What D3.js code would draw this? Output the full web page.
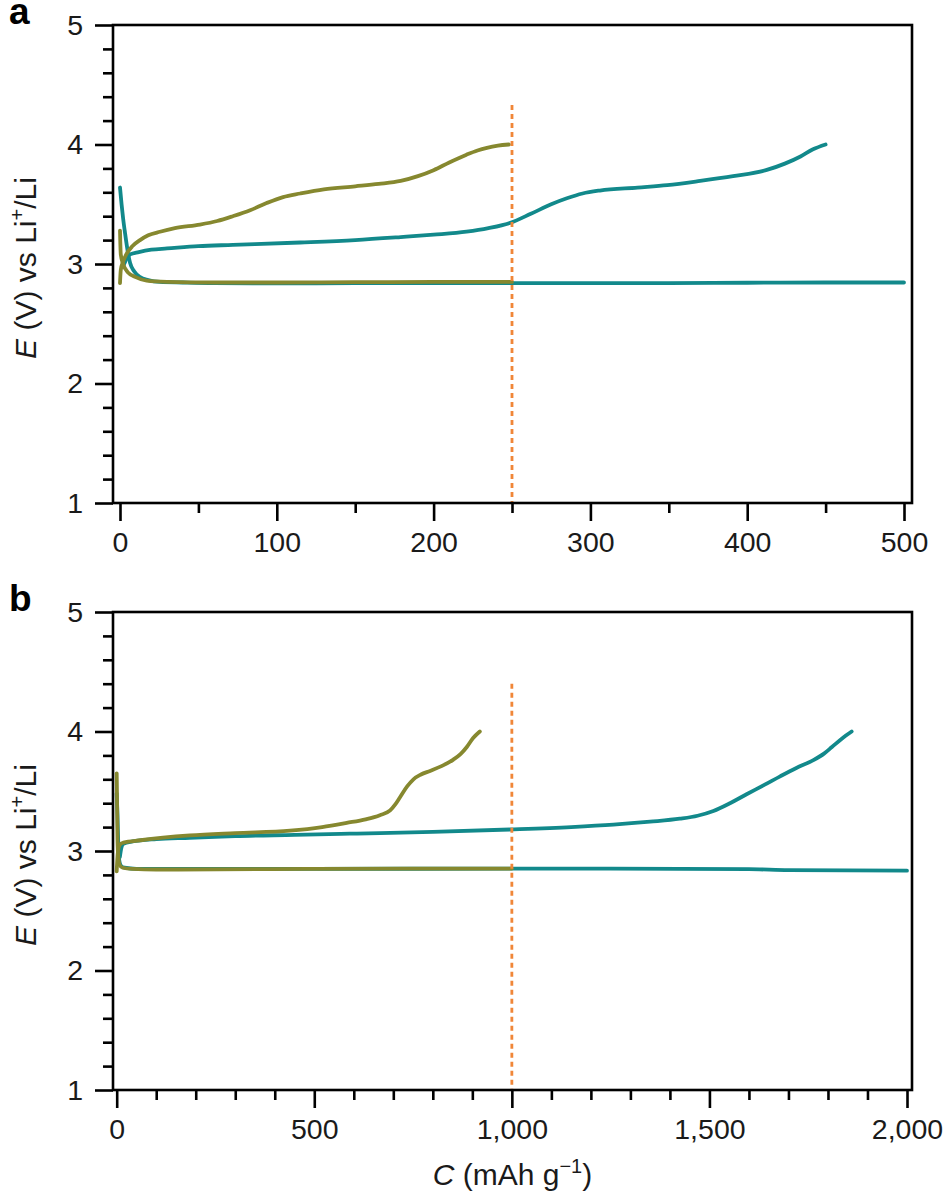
<!DOCTYPE html>
<html>
<head>
<meta charset="utf-8">
<script src="https://cdn.jsdelivr.net/npm/d3@7"></script>
<style>
  body { margin: 0; background: #fff; }
  svg { display: block; font-family: "Liberation Sans", Arial, sans-serif; }
</style>
</head>
<body>
<svg width="946" height="1197"></svg>
<script>
// panel a: capacity (mAh/g) vs potential (V)
var aTealDischarge = [[0,3.64],[1,3.5],[2,3.38],[3.2,3.26],[5,3.1],[6.4,3.01],[9,2.94],[12.8,2.89],[18,2.865],[25.5,2.85],[40,2.845],[60,2.84],[100,2.838],[150,2.84],[200,2.84],[250,2.84],[300,2.84],[350,2.84],[400,2.843],[450,2.845],[500,2.845]]
var aTealCharge = [[2,2.98],[4,3.04],[6.4,3.08],[12,3.1],[20,3.12],[30,3.13],[50,3.15],[72,3.16],[115,3.18],[150,3.2],[179,3.225],[200,3.245],[221,3.27],[235,3.3],[249,3.345],[262,3.42],[275,3.5],[285,3.55],[295,3.59],[306,3.615],[330,3.64],[349,3.66],[370,3.695],[391,3.735],[412,3.785],[424,3.84],[434,3.9],[442,3.96],[450,4.0]]
var aOliveDischarge = [[0,3.28],[0.5,3.08],[2,3.0],[5,2.93],[10,2.89],[17,2.86],[30,2.85],[60,2.845],[100,2.845],[150,2.848],[200,2.85],[250,2.85]]
var aOliveCharge = [[0,2.84],[0.5,2.95],[2,3.02],[4,3.08],[8,3.15],[12.8,3.2],[18,3.24],[25.5,3.27],[35,3.3],[51,3.33],[62,3.36],[72,3.4],[83,3.45],[93.5,3.51],[104,3.56],[115,3.59],[130,3.625],[150,3.65],[165,3.67],[179,3.695],[190,3.735],[200,3.785],[210,3.85],[221,3.915],[228,3.95],[234,3.972],[241,3.99],[248,4.0]]
var aCutoff = [250, 4.33]

// panel b
var bTealDischarge = [[0,3.48],[2,3.3],[4,3.05],[6,2.93],[10,2.88],[20,2.86],[50,2.85],[100,2.85],[500,2.85],[1000,2.853],[1250,2.852],[1600,2.848],[1700,2.84],[2000,2.835]]
var bTealCharge = [[8,2.95],[12,3.03],[17,3.06],[40,3.08],[100,3.1],[185,3.11],[300,3.125],[450,3.135],[590,3.145],[666,3.15],[800,3.16],[995,3.18],[1150,3.2],[1257,3.22],[1350,3.245],[1425,3.27],[1470,3.295],[1510,3.335],[1552,3.4],[1594,3.475],[1640,3.555],[1679,3.625],[1720,3.695],[1763,3.76],[1790,3.815],[1810,3.87],[1835,3.94],[1860,4.0]]
var bOliveDischarge = [[0,3.65],[1,3.4],[2,3.1],[4,2.95],[8,2.88],[15,2.86],[40,2.85],[100,2.845],[500,2.85],[1000,2.853]]
var bOliveCharge = [[0,2.83],[2,2.95],[5,3.03],[10,3.06],[17,3.07],[60,3.09],[185,3.13],[300,3.15],[439,3.17],[520,3.2],[582,3.235],[630,3.265],[666,3.3],[692,3.34],[705,3.39],[717,3.45],[735,3.54],[751,3.6],[770,3.64],[793,3.67],[822,3.71],[852,3.765],[870,3.81],[886,3.87],[902,3.945],[919,4.0]]
var bCutoff = [1000, 4.4]

var yMajor = [1, 2, 3, 4, 5]
var yMinor = d3.range(1, 5.01, 0.2).filter(function (v) { return Math.abs(v - Math.round(v)) > 0.01 })
var aXMajor = [0, 100, 200, 300, 400, 500]
var aXMinor = [50, 150, 250, 350, 450]
var bXMajor = [0, 500, 1000, 1500, 2000]
var bXMinor = d3.range(100, 2000, 100).filter(function (v) { return v % 500 })

var teal = '#12898b'
  , olive = '#86882f'
  , orange = '#f08638'
  , fs = 28.5
  , lfs = 30

var svg = d3.select('svg')

var panels = [
  { label: 'a', top: 25, bottom: 503, x0: 120, x1: 904, xMax: 500, major: aXMajor, minor: aXMinor
  , series: [[aTealDischarge, teal], [aTealCharge, teal], [aOliveDischarge, olive], [aOliveCharge, olive]], cutoff: aCutoff }
, { label: 'b', top: 612, bottom: 1090, x0: 116.7, x1: 907, xMax: 2000, major: bXMajor, minor: bXMinor
  , series: [[bTealDischarge, teal], [bTealCharge, teal], [bOliveDischarge, olive], [bOliveCharge, olive]], cutoff: bCutoff }
]

var left = 113, right = 912

panels.forEach(function (p) {
  var g = svg.append('g')
  var x = d3.scaleLinear().domain([0, p.xMax]).range([p.x0, p.x1])
  var y = d3.scaleLinear().domain([1, 5]).range([p.bottom, p.top])

  var line = d3.line().x(function (d) { return x(d[0]) }).y(function (d) { return y(d[1]) })
    .curve(d3.curveMonotoneX)

  p.series.forEach(function (s) {
    g.append('path').datum(s[0]).attr('d', line)
      .attr('fill', 'none').attr('stroke', s[1]).attr('stroke-width', 3.8)
      .attr('stroke-linecap', 'round').attr('stroke-linejoin', 'round')
  })

  g.append('line')
    .attr('x1', x(p.cutoff[0])).attr('x2', x(p.cutoff[0]))
    .attr('y1', y(p.cutoff[1])).attr('y2', y(1))
    .attr('stroke', orange).attr('stroke-width', 2.8).attr('stroke-dasharray', '5,4')

  // y axis
  var yAx = g.append('g').attr('transform', 'translate(' + left + ',0)')
    .call(d3.axisLeft(y).tickValues(yMajor).tickSize(18).tickPadding(12).tickFormat(d3.format('d')))
  var yMin = g.append('g').attr('transform', 'translate(' + left + ',0)')
    .call(d3.axisLeft(y).tickValues(yMinor).tickSize(10).tickFormat(''))

  // x axis
  var xAx = g.append('g').attr('transform', 'translate(0,' + p.bottom + ')')
    .call(d3.axisBottom(x).tickValues(p.major).tickSize(18).tickPadding(11).tickFormat(d3.format(',')))
  var xMin = g.append('g').attr('transform', 'translate(0,' + p.bottom + ')')
    .call(d3.axisBottom(x).tickValues(p.minor).tickSize(10).tickFormat(''))

  ;[yAx, yMin, xAx, xMin].forEach(function (a) {
    a.select('.domain').remove()
    a.selectAll('line').attr('stroke', '#000').attr('stroke-width', 2.6)
    a.selectAll('text').attr('font-size', fs).attr('fill', '#1a1a1a').attr('font-family', '"Liberation Sans", Arial, sans-serif')
  })

  g.append('rect')
    .attr('x', left).attr('y', p.top).attr('width', right - left).attr('height', p.bottom - p.top)
    .attr('fill', 'none').attr('stroke', '#000').attr('stroke-width', 2.6)

  g.append('text').attr('x', 9).attr('y', p.top - 1)
    .attr('font-size', 37).attr('font-weight', 'bold').text(p.label)

  var yl = g.append('text')
    .attr('transform', 'translate(36,' + ((p.top + p.bottom) / 2 + 4) + ') rotate(-90)')
    .attr('text-anchor', 'middle').attr('font-size', lfs).attr('fill', '#1a1a1a')
  yl.append('tspan').attr('font-style', 'italic').text('E')
  yl.append('tspan').text(' (V) vs Li')
  yl.append('tspan').attr('font-size', 20).attr('dy', -12).text('+')
  yl.append('tspan').attr('dy', 12).text('/Li')
})

var xl = svg.append('text')
  .attr('x', (left + right) / 2).attr('y', 1185)
  .attr('text-anchor', 'middle').attr('font-size', lfs).attr('fill', '#1a1a1a')
xl.append('tspan').attr('font-style', 'italic').text('C')
xl.append('tspan').text(' (mAh g')
xl.append('tspan').attr('font-size', 20).attr('dy', -12).text('\u22121')
xl.append('tspan').attr('dy', 12).text(')')
</script>
</body>
</html>
